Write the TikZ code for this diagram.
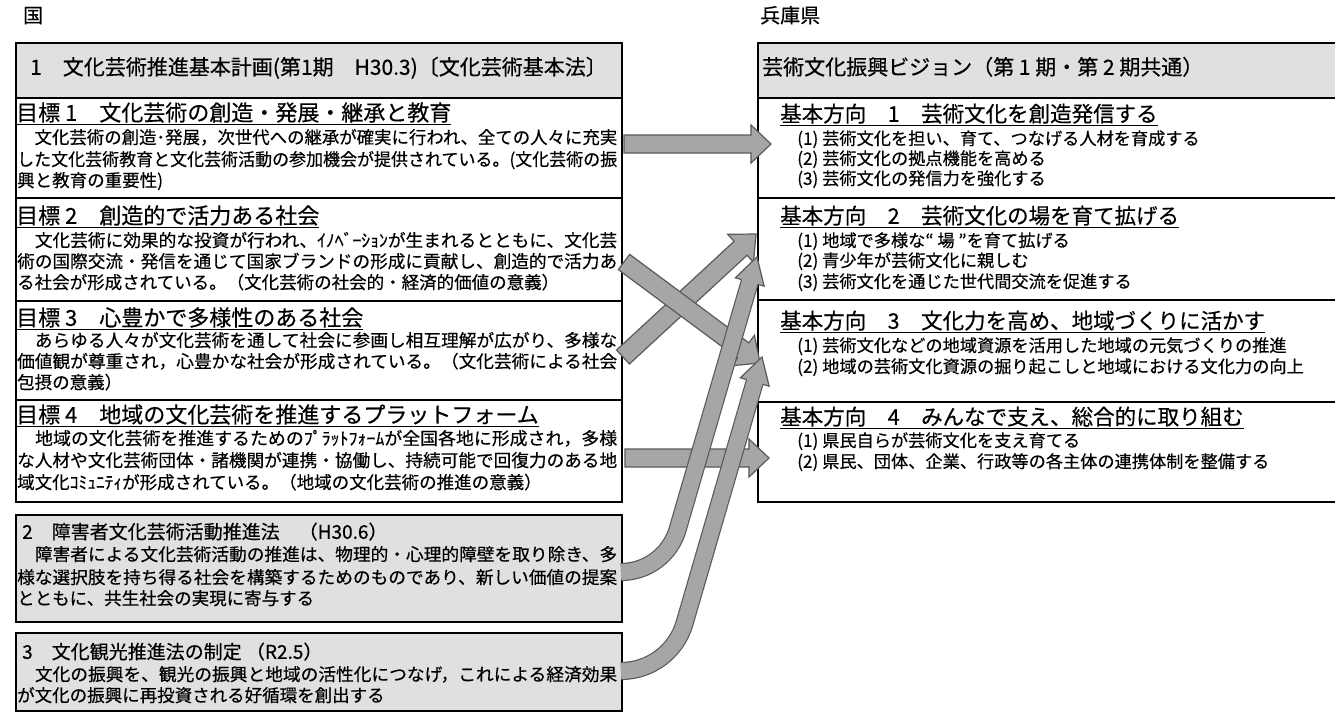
\documentclass[tikz,border=0pt]{standalone}
\usepackage{fontspec}
\setmainfont{Noto Sans CJK JP}[FakeBold=0.4]
\usetikzlibrary{calc}
\definecolor{arrfill}{HTML}{A6A6A6}
\definecolor{arrline}{HTML}{5A5A5A}
\definecolor{hdrfill}{HTML}{E0E0E0}
\newcommand\jl[1]{\resizebox{600pt}{\height}{#1}}
\newcommand\boxnode[6]{\node[#6, anchor=north west, minimum width={#4-#2}, minimum height={#5-#3}] (#1) at (#2,#3) {};}
% straight block arrow: tail, tip, half shaft, half head, head length
\newcommand\sarrow[5]{%
  \path ($(#2)!#5!(#1)$) coordinate (hb);
  \draw[arr] ($(#1)!#3!90:(#2)$) -- ($(hb)!#3!90:(#2)$) -- ($(hb)!#4!90:(#2)$) -- (#2)
    -- ($(hb)!#4!-90:(#2)$) -- ($(hb)!#3!-90:(#2)$) -- ($(#1)!#3!-90:(#2)$) -- cycle;}
% curved block arrow: tail, c1, c2, curve end, tip
\newcommand\carrow[5]{%
  \path ($(#5)!26pt!(#4)$) coordinate (cb);
  \draw[line width=18.2pt, arrline] (#1) .. controls (#2) and (#3) .. (#4) -- (cb);
  \draw[line width=15.8pt, arrfill] (#1) .. controls (#2) and (#3) .. (#4) -- (cb);
  \draw[arr] ($(cb)!8.5pt!90:(#5)$) -- ($(cb)!15pt!90:(#5)$) -- (#5) -- ($(cb)!15pt!-90:(#5)$) -- ($(cb)!8.5pt!-90:(#5)$);}
\begin{document}
\begin{tikzpicture}[x=1pt,y=-1pt,
  box/.style={draw=black, line width=1.6pt, inner sep=0pt, outer sep=0pt},
  hdr/.style={box, fill=hdrfill},
  txt/.style={anchor=west, inner sep=0pt, text height=0.88em, text depth=0.12em},
  body/.style={txt, font=\fontsize{17.5}{20}\selectfont},
  gtitle/.style={txt, font=\fontsize{22}{24}\selectfont},
  htitle/.style={txt, font=\fontsize{21}{24}\selectfont},
  btitle/.style={txt, font=\fontsize{19}{22}\selectfont},
  rtitle/.style={txt, font=\fontsize{21.5}{24}\selectfont},
  item/.style={txt, font=\fontsize{17.2}{20}\selectfont},
  lbl/.style={txt, font=\fontsize{20}{22}\selectfont},
  arr/.style={fill=arrfill, draw=arrline, line width=1.2pt, line join=miter},
]
\clip (0,0) rectangle (1335,713);
\fill[white] (0,0) rectangle (1335,713);

% labels
\node[lbl] (kuni) at (23,19) {国};
\node[lbl] (hyogo) at (760,19) {兵庫県};

% left boxes
\boxnode{hdrL}{16}{43}{622}{98}{hdr}
\boxnode{g1}{16}{98}{622}{198}{box}
\boxnode{g2}{16}{198}{622}{301}{box}
\boxnode{g3}{16}{301}{622}{400}{box}
\boxnode{g4}{16}{400}{622}{502}{box}
\boxnode{b2}{16}{515}{622}{622}{hdr}
\boxnode{b3}{16}{633}{622}{711}{hdr}

% right boxes
\boxnode{hdrR}{758}{43}{1345}{98}{hdr}
\boxnode{r1}{758}{98}{1345}{198}{box}
\boxnode{r2}{758}{198}{1345}{300}{box}
\boxnode{r3}{758}{300}{1345}{402}{box}
\boxnode{r4}{758}{402}{1345}{502}{box}

% left texts
\node[htitle] (thL) at (30,71) {1　文化芸術推進基本計画(第1期　H30.3)〔文化芸術基本法〕};

\node[gtitle] (t1) at (16,117) {\underline{目標 1　文化芸術の創造・発展・継承と教育}};
\node[body] (l11) at (17,140) {\jl{　文化芸術の創造･発展，次世代への継承が確実に行われ、全ての人々に充実}};
\node[body] (l12) at (17,162) {\jl{した文化芸術教育と文化芸術活動の参加機会が提供されている。(文化芸術の振}};
\node[body] (l13) at (17,183) {興と教育の重要性)};

\node[gtitle] (t2) at (16,220) {\underline{目標 2　創造的で活力ある社会}};
\node[body] (l21) at (17,243) {\jl{　文化芸術に効果的な投資が行われ、ｲﾉﾍﾞｰｼｮﾝが生まれるとともに、文化芸}};
\node[body] (l22) at (17,264) {\jl{術の国際交流・発信を通じて国家ブランドの形成に貢献し、創造的で活力あ}};
\node[body] (l23) at (17,285) {る社会が形成されている。（文化芸術の社会的・経済的価値の意義）};

\node[gtitle] (t3) at (16,322) {\underline{目標 3　心豊かで多様性のある社会}};
\node[body] (l31) at (17,343) {\jl{　あらゆる人々が文化芸術を通して社会に参画し相互理解が広がり、多様な}};
\node[body] (l32) at (17,364) {\jl{価値観が尊重され，心豊かな社会が形成されている。（文化芸術による社会}};
\node[body] (l33) at (17,385) {包摂の意義）};

\node[gtitle] (t4) at (16,419) {\underline{目標 4　地域の文化芸術を推進するプラットフォーム}};
\node[body] (l41) at (17,441) {\jl{　地域の文化芸術を推進するためのﾌﾟﾗｯﾄﾌｫｰﾑが全国各地に形成され，多様}};
\node[body] (l42) at (17,463) {\jl{な人材や文化芸術団体・諸機関が連携・協働し、持続可能で回復力のある地}};
\node[body] (l43) at (17,485) {域文化ｺﾐｭﾆﾃｨが形成されている。（地域の文化芸術の推進の意義）};

\node[btitle] (t5) at (22,535) {2　障害者文化芸術活動推進法　（H30.6）};
\node[body] (l51) at (17,557) {\jl{　障害者による文化芸術活動の推進は、物理的・心理的障壁を取り除き、多}};
\node[body] (l52) at (17,580) {\jl{様な選択肢を持ち得る社会を構築するためのものであり、新しい価値の提案}};
\node[body] (l53) at (17,601) {とともに、共生社会の実現に寄与する};

\node[btitle] (t6) at (22,655) {3　文化観光推進法の制定 （R2.5）};
\node[body] (l61) at (17,677) {\jl{　文化の振興を、観光の振興と地域の活性化につなげ，これによる経済効果}};
\node[body] (l62) at (17,698) {が文化の振興に再投資される好循環を創出する};

% right texts
\node[htitle] (thR) at (762,71) {芸術文化振興ビジョン（第 1 期・第 2 期共通）};

\node[rtitle] (s1) at (780,118) {\underline{基本方向　1　芸術文化を創造発信する}};
\node[item] (i11) at (797,141) {(1) 芸術文化を担い、育て、つなげる人材を育成する};
\node[item] (i12) at (797,161) {(2) 芸術文化の拠点機能を高める};
\node[item] (i13) at (797,181) {(3) 芸術文化の発信力を強化する};

\node[rtitle] (s2) at (780,220) {\underline{基本方向　2　芸術文化の場を育て拡げる}};
\node[item] (i21) at (797,243) {(1) 地域で多様な“ 場 ”を育て拡げる};
\node[item] (i22) at (797,263) {(2) 青少年が芸術文化に親しむ};
\node[item] (i23) at (797,284) {(3) 芸術文化を通じた世代間交流を促進する};

\node[rtitle] (s3) at (780,325) {\underline{基本方向　3　文化力を高め、地域づくりに活かす}};
\node[item] (i31) at (797,348) {(1) 芸術文化などの地域資源を活用した地域の元気づくりの推進};
\node[item] (i32) at (797,369) {(2) 地域の芸術文化資源の掘り起こしと地域における文化力の向上};

\node[rtitle] (s4) at (780,421) {\underline{基本方向　4　みんなで支え、総合的に取り組む}};
\node[item] (i41) at (797,443) {(1) 県民自らが芸術文化を支え育てる};
\node[item] (i42) at (797,464) {(2) 県民、団体、企業、行政等の各主体の連携体制を整備する};

% arrow end points
\coordinate (a1s) at (624,144);  \coordinate (a1e) at (771,144);
\coordinate (a4s) at (625,458);  \coordinate (a4e) at (769,458);
\coordinate (a3s) at (623,357);  \coordinate (a3e) at (756,234);
\coordinate (a2s) at (624,262);  \coordinate (a2e) at (760,363);
\coordinate (c1s) at (621,572);  \coordinate (c1a) at (647,572);
\coordinate (c1b) at (670.3,554.7); \coordinate (c1p) at (677.6,529.5);
\coordinate (c1e) at (757,257);
\coordinate (c2s) at (621,671);  \coordinate (c2a) at (650.4,671);
\coordinate (c2b) at (676.3,651.5); \coordinate (c2p) at (684.5,623.3);
\coordinate (c2e) at (762,357);

\sarrow{a4s}{a4e}{9pt}{19pt}{20pt}
\sarrow{a1s}{a1e}{9pt}{19pt}{20pt}
\sarrow{a3s}{a3e}{9.5pt}{19pt}{21pt}
\sarrow{a2s}{a2e}{9.5pt}{19pt}{21pt}
\carrow{c1s}{c1a}{c1b}{c1p}{c1e}
\carrow{c2s}{c2a}{c2b}{c2p}{c2e}
\end{tikzpicture}
\end{document}
